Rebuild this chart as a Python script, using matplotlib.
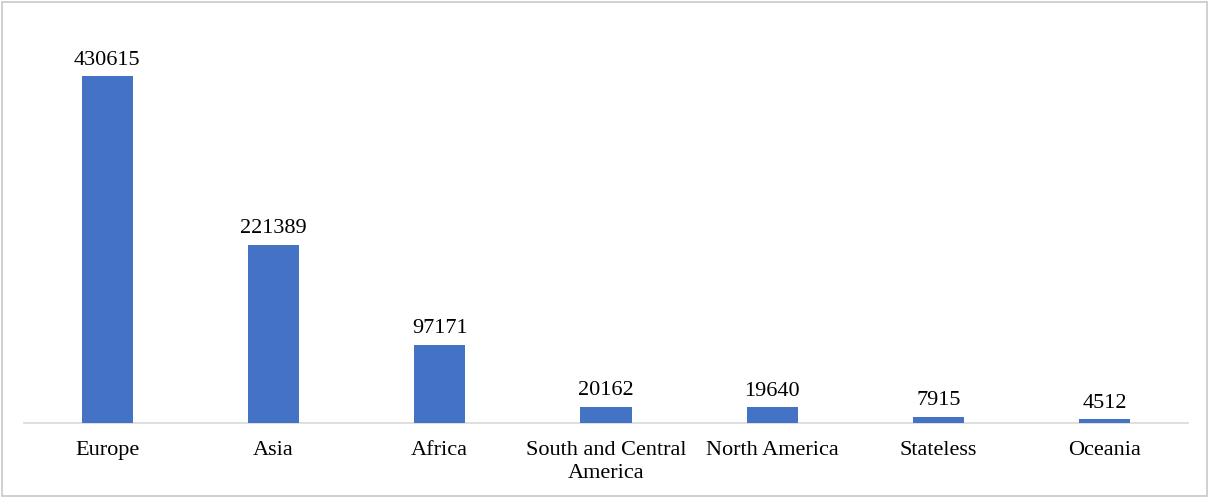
import matplotlib
matplotlib.use("Agg")
import matplotlib.pyplot as plt
from matplotlib.patches import Rectangle

categories = ["Europe", "Asia", "Africa", "South and Central\nAmerica", "North America", "Stateless", "Oceania"]
values = [430615, 221389, 97171, 20162, 19640, 7915, 4512]

plt.rcParams['font.family'] = ['Liberation Serif', 'DejaVu Serif']

fig = plt.figure(figsize=(12.09, 4.97), dpi=100)
ax = fig.add_axes([24/1209, 74/497, 1164/1209, 403/497])

x = list(range(len(categories)))
bars = ax.bar(x, values, width=51/166, color="#4472C4", zorder=2)
ax.set_xlim(-0.5, len(categories) - 0.5)
ax.set_ylim(0, 500000)

for xi, v in zip(x, values):
    ax.annotate(str(v), (xi, v), xytext=(0, 4.5), textcoords="offset points",
                ha="center", va="bottom", fontsize=16, color="black")

ax.set_xticks(x)
ax.set_xticklabels(categories, fontsize=16, linespacing=1.3)
ax.tick_params(axis="x", length=0, pad=13)
ax.set_yticks([])
for s in ["top", "right", "left"]:
    ax.spines[s].set_visible(False)
ax.spines["bottom"].set_color("#D9D9D9")
ax.spines["bottom"].set_linewidth(1.2)
ax.spines["bottom"].set_zorder(1)

fig.patches.append(Rectangle((2/1209, 1/497), 1205/1209, 494/497, transform=fig.transFigure,
                             fill=False, edgecolor="#C8C8C8", linewidth=1.2))

fig.savefig("out.png", dpi=100)
